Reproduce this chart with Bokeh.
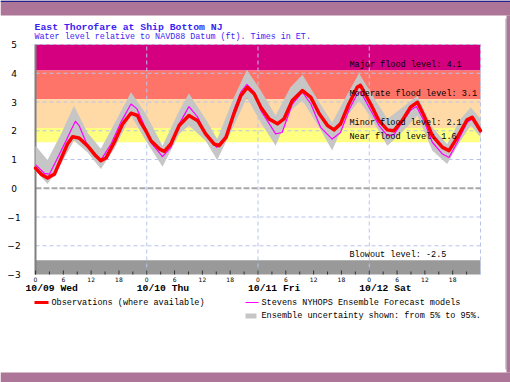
from bokeh.plotting import figure
from bokeh.models import Range1d
from bokeh.core.properties import value
from bokeh.embed import file_html
from bokeh.resources import INLINE

# ---------------- data ----------------
obs_hours = [0, 1.2, 2.6, 4.1, 5.5, 6.9, 8.0, 9.4, 11.2, 13.0, 14.1, 15.2, 17.0, 18.8, 20.6, 22.0,
             22.7, 23.8, 24.9, 26.7, 27.8, 29.2, 31.0, 33.1, 35.0, 36.7, 38.5, 39.6, 41.1, 42.8,
             44.3, 45.7, 47.2, 48.6, 50.4, 52.2, 53.6, 55.4, 57.6, 59.4, 61.2, 63.0, 64.4, 65.8,
             67.6, 69.4, 70.1, 72.3, 74.1, 75.9, 77.3, 79.1, 80.9, 82.4, 83.8, 85.6, 87.8, 89.2,
             91.0, 93.1, 94.2, 96]
obs_level = [0.70, 0.49, 0.36, 0.49, 1.02, 1.54, 1.79, 1.75, 1.48, 1.13, 0.96, 1.05, 1.60, 2.24,
             2.61, 2.53, 2.29, 2.00, 1.65, 1.37, 1.28, 1.54, 2.18, 2.53, 2.35, 1.89, 1.54, 1.48,
             1.77, 2.59, 3.22, 3.51, 3.28, 2.82, 2.41, 2.24, 2.41, 3.05, 3.40, 3.16, 2.59, 2.18,
             2.03, 2.24, 2.93, 3.51, 3.58, 2.93, 2.35, 2.03, 2.00, 2.35, 2.82, 2.99, 2.53, 1.83,
             1.42, 1.31, 1.77, 2.38, 2.47, 2.00]

fc_hours = [0, 1.9, 3.0, 4.8, 6.6, 7.6, 8.6, 9.4, 10.9, 12.7, 14.1, 16.3, 18.4, 20.6, 21.9, 23.8,
            24.9, 27.4, 29.2, 31.0, 33.1, 35.0, 36.7, 39.1, 41.1, 42.8, 44.3, 45.6, 47.2, 48.6,
            51.8, 53.2, 55.4, 57.6, 59.4, 61.5, 64.0, 65.8, 67.6, 69.4, 70.1, 72.3, 74.1, 75.9,
            77.3, 79.1, 80.9, 82.2, 83.8, 85.6, 87.8, 89.2, 91.0, 93.1, 94.2, 96]
fc_level = [0.82, 0.52, 0.49, 1.07, 1.66, 2.00, 2.33, 2.18, 1.60, 1.17, 0.98, 1.54, 2.29, 2.93,
            2.76, 2.06, 1.59, 1.10, 1.42, 2.24, 2.84, 2.47, 1.89, 1.42, 1.83, 2.71, 3.34, 3.61,
            3.34, 2.71, 1.89, 1.94, 2.93, 3.34, 2.93, 2.12, 1.71, 1.94, 2.71, 3.28, 3.37, 2.71,
            2.18, 1.83, 1.86, 2.29, 2.71, 2.84, 2.35, 1.60, 1.19, 1.07, 1.60, 2.29, 2.41, 1.94]

band_hours = [0, 2.6, 5.5, 8.3, 11.2, 14.1, 17.0, 20.6, 23.8, 27.4, 31.0, 33.1, 36.7, 39.2, 42.8,
              45.6, 48.6, 51.8, 55.0, 57.6, 61.2, 64.0, 67.3, 69.8, 72.3, 75.9, 78.7, 82.4, 85.6,
              88.8, 91.7, 93.9, 96]
band_high = [1.48, 0.98, 1.89, 2.87, 1.94, 1.37, 2.24, 3.34, 2.59, 1.48, 2.70, 3.30, 2.41, 1.71,
             3.16, 4.12, 3.40, 2.53, 3.51, 3.95, 2.99, 2.29, 3.28, 4.00, 3.34, 2.41, 2.76, 3.22,
             2.12, 1.54, 2.41, 2.82, 2.41]
band_low = [0.61, 0.15, 0.84, 1.65, 1.25, 0.67, 1.37, 2.53, 1.65, 0.75, 1.89, 2.18, 1.65, 0.98,
            2.18, 3.16, 2.29, 1.48, 2.70, 3.05, 2.12, 1.31, 2.53, 3.05, 2.47, 1.48, 1.89, 2.53,
            1.31, 0.84, 1.65, 2.18, 1.77]

y_ticks = [-3, -2, -1, 0, 1, 2, 3, 4, 5]
y_tick_labels = ["\u22123", "\u22122", "\u22121", "0", "1", "2", "3", "4", "5"]
hour_ticks = [0, 6, 12, 18, 24, 30, 36, 42, 48, 54, 60, 66, 72, 78, 84, 90]
hour_labels = ["0", "6", "12", "18"] * 4
hour_minor = [3, 9, 15, 21, 27, 33, 39, 45, 51, 57, 63, 69, 75, 81, 87, 93]
day_starts = [0, 24, 48, 72]
day_labels = ["10/09 Wed", "10/10 Thu", "10/11 Fri", "10/12 Sat"]

zone_bottom = [4.1, 3.1, 2.1, 1.6, -3.0]
zone_top = [5.0, 4.1, 3.1, 2.1, -2.5]
zone_colors = ["#d5007f", "#ff7468", "#ffd9a6", "#ffff80", "#999999"]
level_values = [4.1, 3.1, 2.1, 1.6, -2.5]
level_names = ["Major flood level: 4.1", "Moderate flood level: 3.1", "Minor flood level: 2.1",
               "Near flood level: 1.6", "Blowout level: -2.5"]

title_text = "East Thorofare at Ship Bottom NJ"
subtitle_text = "Water level relative to NAVD88 Datum (ft). Times in ET."
legend_texts = ["Observations (where available)", "Stevens NYHOPS Ensemble Forecast models",
                "Ensemble uncertainty shown: from 5% to 95%."]

# ---------------- layout (pixel geometry of the page) ----------------
W, H = 510, 382
X0, X1 = 0, 96          # hours shown
Y0, Y1 = -3, 5          # feet shown
PX_L, PX_R = 35, 480    # plot area, pixels
PY_T, PY_B = 44, 274


def hx(px):
    return X0 + (px - PX_L) / (PX_R - PX_L) * (X1 - X0)


def vy(py):
    return Y1 - (py - PY_T) / (PY_B - PY_T) * (Y1 - Y0)


def dy(pixels):
    return pixels / (PY_B - PY_T) * (Y1 - Y0)


MONO = "Liberation Mono"
PURPLE = "#ad7598"
GRID = "#b8c4ea"

p = figure(width=W, height=H, x_range=Range1d(hx(0), hx(W)), y_range=Range1d(vy(H), vy(0)),
           output_backend="svg", toolbar_location=None, title=None,
           x_axis_location=None, y_axis_location=None,
           min_border=0, min_border_left=0, min_border_right=0,
           min_border_top=0, min_border_bottom=0)
p.outline_line_color = None
p.background_fill_color = "white"
p.border_fill_color = "white"
p.xgrid.visible = False
p.ygrid.visible = False

# page frame
p.quad(left=hx(0), right=hx(W), top=vy(0), bottom=vy(15), fill_color=PURPLE, line_color=None)
p.quad(left=hx(0), right=hx(W), top=vy(0), bottom=vy(1.5), fill_color="#23238c", line_color=None)
p.quad(left=hx(0), right=hx(W), top=vy(372), bottom=vy(H), fill_color=PURPLE, line_color=None)
p.quad(left=hx(506), right=hx(W), top=vy(15), bottom=vy(372), fill_color=PURPLE, line_color=None)
p.segment(x0=hx(505.5), x1=hx(505.5), y0=vy(18), y1=vy(369), line_color="#9a9a9a", line_width=1)

# flood zones
p.quad(left=X0, right=X1, bottom=zone_bottom, top=zone_top, fill_color=zone_colors,
       line_color=None)

# grid
inner_y = [t for t in y_ticks if t not in (0, Y0)]
p.segment(x0=X0, x1=X1, y0=inner_y, y1=inner_y,
          line_color=GRID, line_width=1, line_dash="4 3")
p.segment(x0=day_starts[1:] + [X1], x1=day_starts[1:] + [X1], y0=Y0, y1=Y1,
          line_color=GRID, line_width=1, line_dash="4 3")
p.segment(x0=X0, x1=X1, y0=0, y1=0, line_color="#a8a8a8", line_width=2, line_dash="6 2")

# left axis line and labels
p.segment(x0=X0, x1=X0, y0=Y0, y1=Y1, line_color="#7f7f7f", line_width=2)
p.text(x=[hx(13.5)] * len(y_ticks), y=y_ticks, text=y_tick_labels,
       text_font=value("DejaVu Sans"), text_font_size="9px", text_color="black",
       text_align="center", text_baseline="middle")

# ensemble band and lines
p.varea(x=band_hours, y1=band_low, y2=band_high, fill_color="#c6c6c6", fill_alpha=1)
p.line(fc_hours, fc_level, line_color="#ff00ff", line_width=1.2, line_join="round")
p.line(obs_hours, obs_level, line_color="#ff0000", line_width=3.5, line_join="round",
       line_cap="round")

# bottom ticks (pointing into the plot)
p.segment(x0=hour_ticks, x1=hour_ticks, y0=Y0, y1=Y0 + dy(4), line_color="#333333", line_width=1)
p.segment(x0=hour_minor, x1=hour_minor, y0=Y0, y1=Y0 + dy(3), line_color="#333333", line_width=1)

# hour labels
p.text(x=hour_ticks, y=[vy(276)] * len(hour_ticks), text=hour_labels,
       text_font=value("DejaVu Sans"), text_font_size="6px", text_color="black",
       text_align="center", text_baseline="top")

# day labels
p.text(x=day_starts, y=[vy(282.5)] * len(day_starts), text=day_labels, x_offset=-10,
       text_font=value(MONO), text_font_style="bold", text_font_size="9.7px",
       text_color="black", text_align="left", text_baseline="top")

# flood level labels
p.text(x=[hx(349)] * len(level_values), y=level_values, text=level_names,
       text_font=value(MONO), text_font_size="8.5px", text_color="black",
       text_align="left", text_baseline="bottom")

# title
p.text(x=[hx(34)], y=[vy(27)], text=[title_text], text_font=value(MONO),
       text_font_style="bold", text_font_size="9.8px", text_color="#3a1ef2",
       text_align="left", text_baseline="middle")
p.text(x=[hx(34)], y=[vy(36)], text=[subtitle_text], text_font=value(MONO),
       text_font_size="8.4px", text_color="#3a1ef2", text_align="left", text_baseline="middle")

# legend
p.quad(left=hx(34), right=hx(48), top=vy(300.5), bottom=vy(303.5), fill_color="#ff0000",
       line_color=None)
p.quad(left=hx(245), right=hx(258), top=vy(301.5), bottom=vy(302.5), fill_color="#ff00ff",
       line_color=None)
p.quad(left=hx(245), right=hx(256), top=vy(313), bottom=vy(318), fill_color="#c6c6c6",
       line_color=None)
p.text(x=[hx(51), hx(261), hx(261)], y=[vy(302), vy(302), vy(315)], text=legend_texts,
       text_font=value(MONO), text_font_size="8.5px", text_color="black",
       text_align="left", text_baseline="middle")

open("out.html", "w").write(file_html(p, INLINE))
